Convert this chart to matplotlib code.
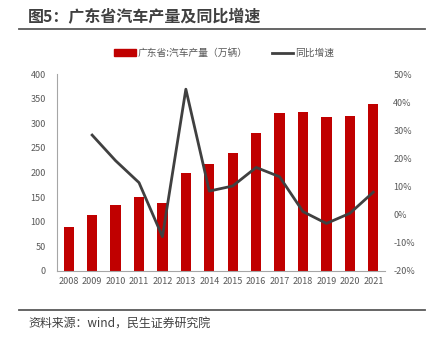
import matplotlib
matplotlib.use('Agg')
import matplotlib.pyplot as plt
from matplotlib.lines import Line2D

plt.rcParams['font.family'] = ['Noto Sans CJK SC', 'DejaVu Sans']

years = ['2008', '2009', '2010', '2011', '2012', '2013', '2014',
         '2015', '2016', '2017', '2018', '2019', '2020', '2021']
output = [89, 114, 135, 150, 139, 200, 217, 240, 281, 320, 322, 312, 315, 340]
growth = [None, 28.3, 19.2, 11.4, -7.8, 44.6, 8.4, 10.2, 16.8, 13.5, 1.1, -3.1, 0.5, 8.0]

bar_color = '#C00000'
line_color = '#404040'
text_color = '#595959'

fig = plt.figure(figsize=(4.31, 3.44), dpi=100)
W, H = 431, 344

# plot area in pixel coords
left, right, top, bottom = 57, 385, 74, 271
ax = fig.add_axes([left / W, 1 - bottom / H, (right - left) / W, (bottom - top) / H])
ax2 = ax.twinx()

x = list(range(len(years)))
ax.bar(x, output, width=0.44, color=bar_color, zorder=2)
ax.set_xlim(-0.5, len(years) - 0.5)
ax.set_ylim(0, 400)
ax.set_yticks(range(0, 401, 50))
ax.set_xticks(x)
ax.set_xticklabels(years)

gx = [i for i, g in zip(x, growth) if g is not None]
gy = [g for g in growth if g is not None]
ax2.plot(gx, gy, color=line_color, lw=2, zorder=3)
ax2.set_ylim(-20, 50)
ax2.set_yticks(range(-20, 51, 10))
ax2.set_yticklabels(['%d%%' % v for v in range(-20, 51, 10)])

for a in (ax, ax2):
    for s in ('top', 'right'):
        a.spines[s].set_visible(False)
    a.tick_params(length=0, labelsize=6.5, colors=text_color, pad=4)
ax2.spines['left'].set_visible(False)
ax2.spines['bottom'].set_visible(False)
ax.spines['left'].set_color('#A6A6A6')
ax.spines['bottom'].set_color('#A6A6A6')
ax.tick_params(axis='y', pad=8)
ax2.tick_params(axis='y', pad=6)

# legend
handles = [plt.Rectangle((0, 0), 1, 1, color=bar_color),
           Line2D([0], [0], color=line_color, lw=2)]
fig.legend(handles, ['广东省:汽车产量（万辆）', '同比增速'],
           loc='center', bbox_to_anchor=(0.52, 1 - 53 / H), ncol=2, frameon=False,
           fontsize=7, labelcolor=text_color, handlelength=2.2, handleheight=0.6,
           columnspacing=2.5, handletextpad=0.2)

# title and source
fig.text(28 / W, 1 - 17 / H, '图5：广东省汽车产量及同比增速', fontsize=11.5, fontweight='bold',
         color='#404040', va='center', ha='left')
fig.add_artist(Line2D([19 / W, 425 / W], [1 - 29 / H, 1 - 29 / H], color='#595959', lw=1.3))
fig.add_artist(Line2D([19 / W, 425 / W], [1 - 310 / H, 1 - 310 / H], color='#595959', lw=1.3))
fig.text(28 / W, 1 - 323 / H, '资料来源：wind，民生证券研究院', fontsize=8.6,
         color='#404040', va='center', ha='left')

fig.savefig('out.png', dpi=100)
